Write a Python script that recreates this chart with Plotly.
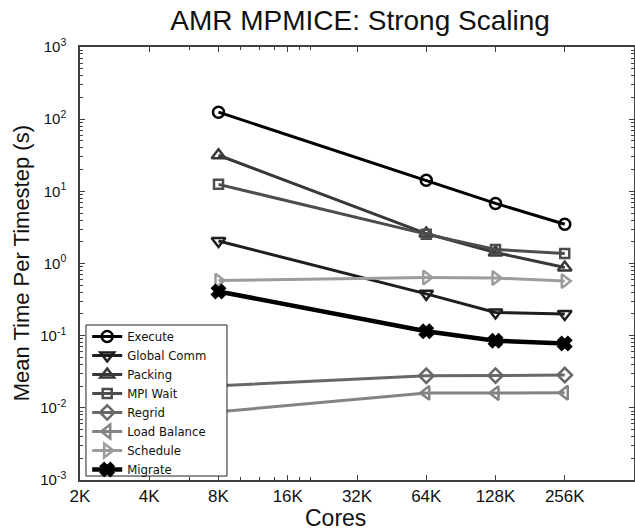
import plotly.graph_objects as go

cores = [8192, 65536, 131072, 262144]
execute = [125, 14.2, 6.8, 3.5]
global_comm = [2.05, 0.38, 0.21, 0.20]
packing = [31.6, 2.6, 1.42, 0.88]
mpi_wait = [12.5, 2.55, 1.56, 1.38]
regrid = [0.0202, 0.0278, 0.028, 0.0285]
load_balance = [0.0088, 0.0161, 0.016, 0.0162]
schedule = [0.58, 0.64, 0.63, 0.57]
migrate = [0.41, 0.115, 0.085, 0.078]

x_tick_vals = [2048, 4096, 8192, 16384, 32768, 65536, 131072, 262144]
x_tick_text = ["2K", "4K", "8K", "16K", "32K", "64K", "128K", "256K"]
x_minor_vals = [6144, 10240, 12288, 14336, 18432, 20480]
y_tick_vals = [1e-3, 1e-2, 1e-1, 1e0, 1e1, 1e2, 1e3]
y_tick_text = ["10<sup>-3</sup>", "10<sup>-2</sup>", "10<sup>-1</sup>", "10<sup>0</sup>",
               "10<sup>1</sup>", "10<sup>2</sup>", "10<sup>3</sup>"]
y_minor_vals = [m * 10 ** e for e in range(-3, 3) for m in range(2, 10)]

series = [
    ("Execute", execute, "#000000", "circle-open", 3, 11),
    ("Global Comm", global_comm, "#1e1e1e", "triangle-down-open", 3, 12),
    ("Packing", packing, "#383838", "triangle-up-open", 3, 12),
    ("MPI Wait", mpi_wait, "#4d4d4d", "square-open", 3, 9),
    ("Regrid", regrid, "#686868", "diamond-open", 3, 11),
    ("Load Balance", load_balance, "#838383", "triangle-left-open", 3, 12),
    ("Schedule", schedule, "#9c9c9c", "triangle-right-open", 3, 12),
    ("Migrate", migrate, "#000000", "x", 4.5, 11),
]

fig = go.Figure()
for name, vals, color, sym, lw, ms in series:
    fig.add_trace(go.Scatter(
        x=cores, y=vals, name=name, mode="lines+markers",
        line=dict(color=color, width=lw),
        marker=dict(symbol=sym, size=ms, color=color,
                    line=dict(color=color, width=2.5)),
    ))

font = "Liberation Sans, Arial, Helvetica, sans-serif"
axis_common = dict(
    showgrid=False, zeroline=False, showline=True, linecolor="#404040",
    linewidth=1.5, mirror="ticks", ticks="inside", ticklen=5,
    tickcolor="#404040", automargin=False,
)

# legend frame (white box behind the legend entries, covering the lines)
fig.add_shape(type="rect", xref="paper", yref="paper",
              x0=0.0108, x1=0.2653, y0=0.0092, y1=0.358,
              fillcolor="white", line=dict(color="#222", width=1), layer="above")

fig.update_layout(
    width=635, height=531,
    paper_bgcolor="white", plot_bgcolor="white",
    margin=dict(l=80, r=1, t=47, b=51),
    font=dict(family=font, color="#111"),
    title=dict(text="AMR MPMICE: Strong Scaling", x=0.567, xref="container",
               xanchor="center", y=0.962, yref="container", yanchor="middle",
               font=dict(size=28, color="#111")),
    xaxis=dict(type="log", range=[3.31133, 5.71957],
               tickmode="array", tickvals=x_tick_vals, ticktext=x_tick_text,
               tickfont=dict(size=17, color="#111"),
               minor=dict(tickmode="array", tickvals=x_minor_vals,
                          ticks="inside", ticklen=3, tickcolor="#404040"),
               **axis_common),
    yaxis=dict(type="log", range=[-3, 3],
               tickmode="array", tickvals=y_tick_vals, ticktext=y_tick_text,
               tickfont=dict(size=15, color="#111"), ticklabelstandoff=9,
               minor=dict(tickmode="array", tickvals=y_minor_vals,
                          ticks="inside", ticklen=3, tickcolor="#404040"),
               **axis_common),
    legend=dict(x=0.013, y=0.365, xanchor="left", yanchor="top",
                bgcolor="rgba(0,0,0,0)", borderwidth=0,
                font=dict(size=11.7, color="#111", family="DejaVu Sans, sans-serif"),
                tracegroupgap=0, itemwidth=30),
    showlegend=True,
    annotations=[
        dict(text="Cores", xref="paper", yref="paper", x=0.462, y=-0.088,
             xanchor="center", yanchor="middle", showarrow=False,
             font=dict(size=23, color="#111")),
        dict(text="Mean Time Per Timestep (s)", xref="paper", yref="paper",
             x=-0.105, y=0.5, xanchor="center", yanchor="middle", textangle=-90,
             showarrow=False, font=dict(size=22, color="#111")),
    ],
)

fig.write_html("out.html", config={"displayModeBar": False},
               post_script="document.body.style.margin='0';document.body.style.padding='0';")
